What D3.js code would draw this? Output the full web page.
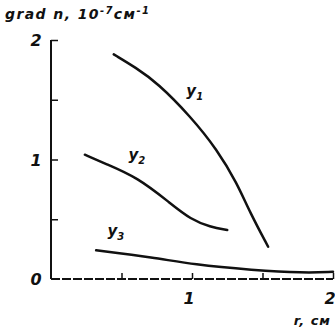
<!DOCTYPE html>
<html lang="ru">
<head>
<meta charset="UTF-8">
<title>grad n</title>
<script src="https://d3js.org/d3.v7.min.js"></script>
<style>
  body { margin: 0; background: #fff; }
  text { font-family: "DejaVu Sans", sans-serif; font-style: italic; fill: #111; }
</style>
</head>
<body>
<svg id="chart"></svg>
<script>
// values (r in cm, grad n in 1e-7 cm^-1)
var y1R = [0.445, 0.6, 0.756, 0.99, 1.18, 1.32, 1.41, 1.54];
var y1V = [1.88, 1.77, 1.64, 1.36, 1.08, 0.80, 0.56, 0.27];
var y2R = [0.24, 0.375, 0.615, 0.85, 0.99, 1.13, 1.25];
var y2V = [1.04, 0.97, 0.85, 0.63, 0.50, 0.435, 0.41];
var y3R = [0.32, 0.73, 1.01, 1.43, 1.79, 2.0];
var y3V = [0.24, 0.18, 0.12, 0.075, 0.05, 0.06];
var xTicks = [0.5, 1, 1.5, 2];
var yTicks = [0.5, 1, 1.5, 2];
var xLabels = [1, 2];
var yLabels = [0, 1, 2];

var width = 335, height = 329;
var svg = d3.select('#chart').attr('width', width).attr('height', height);

var x = d3.scaleLinear().domain([0, 2]).range([51, 333]);
var y = d3.scaleLinear().domain([0, 2]).range([279, 40]);

// ticks point inward
var gx = svg.append('g').attr('transform', 'translate(0,' + y(0) + ')')
    .call(d3.axisTop(x).tickValues(xTicks).tickSize(6).tickFormat(''));
gx.select('.domain').remove();
gx.selectAll('line').attr('stroke', '#111').attr('stroke-width', 1.5);
svg.append('line')
    .attr('x1', x(0)).attr('x2', x(2)).attr('y1', y(0)).attr('y2', y(0))
    .attr('stroke', '#111').attr('stroke-width', 2).attr('stroke-dasharray', '9,2');

var gy = svg.append('g').attr('transform', 'translate(' + x(0) + ',0)')
    .call(d3.axisRight(y).tickValues(yTicks).tickSize(7).tickFormat(''));
gy.select('.domain').remove();
gy.selectAll('line').attr('stroke', '#111').attr('stroke-width', 1.5);
svg.append('line')
    .attr('x1', x(0)).attr('x2', x(0)).attr('y1', y(2)).attr('y2', y(0))
    .attr('stroke', '#111').attr('stroke-width', 2);

// tick labels
svg.selectAll('.xl').data(xLabels).enter().append('text')
    .attr('x', function (d) { return x(d) - 3; }).attr('y', 304)
    .attr('text-anchor', 'middle').attr('font-size', 16).attr('font-weight', 'bold')
    .text(function (d) { return d; });
svg.selectAll('.yl').data(yLabels).enter().append('text')
    .attr('x', 36).attr('y', function (d) { return y(d) + 6; })
    .attr('text-anchor', 'middle').attr('font-size', 16).attr('font-weight', 'bold')
    .text(function (d) { return d; });

// axis titles
var ty = svg.append('text').attr('x', 5).attr('y', 19)
    .attr('font-size', 14).attr('font-weight', 'bold').attr('letter-spacing', 1.4);
ty.append('tspan').text('grad n, 10');
ty.append('tspan').attr('dy', -5).attr('font-size', 10).text('-7');
ty.append('tspan').attr('dy', 5).text('см');
ty.append('tspan').attr('dy', -5).attr('font-size', 10).text('-1');

svg.append('text').attr('x', 331).attr('y', 325).attr('text-anchor', 'end')
    .attr('font-size', 13).attr('font-weight', 'bold').attr('letter-spacing', 1).text('r, см');

// curves
var series = [
  { r: y1R, v: y1V },
  { r: y2R, v: y2V },
  { r: y3R, v: y3V }
];
var line = d3.line()
    .x(function (d) { return x(d[0]); })
    .y(function (d) { return y(d[1]); })
    .curve(d3.curveBasis);
svg.selectAll('.curve').data(series).enter().append('path')
    .attr('d', function (s) { return line(d3.zip(s.r, s.v)); })
    .attr('fill', 'none').attr('stroke', '#111').attr('stroke-width', 2.5)
    .attr('stroke-linecap', 'round');

// curve labels
var curveLabels = [
  { n: '1', r: 0.96, v: 1.53 },
  { n: '2', r: 0.55, v: 1.0 },
  { n: '3', r: 0.40, v: 0.36 }
];
curveLabels.forEach(function (c) {
  var t = svg.append('text').attr('x', x(c.r)).attr('y', y(c.v))
      .attr('font-size', 15).attr('font-weight', 'bold');
  t.append('tspan').text('y');
  t.append('tspan').attr('dy', 4).attr('font-size', 10).text(c.n);
});
</script>
</body>
</html>
